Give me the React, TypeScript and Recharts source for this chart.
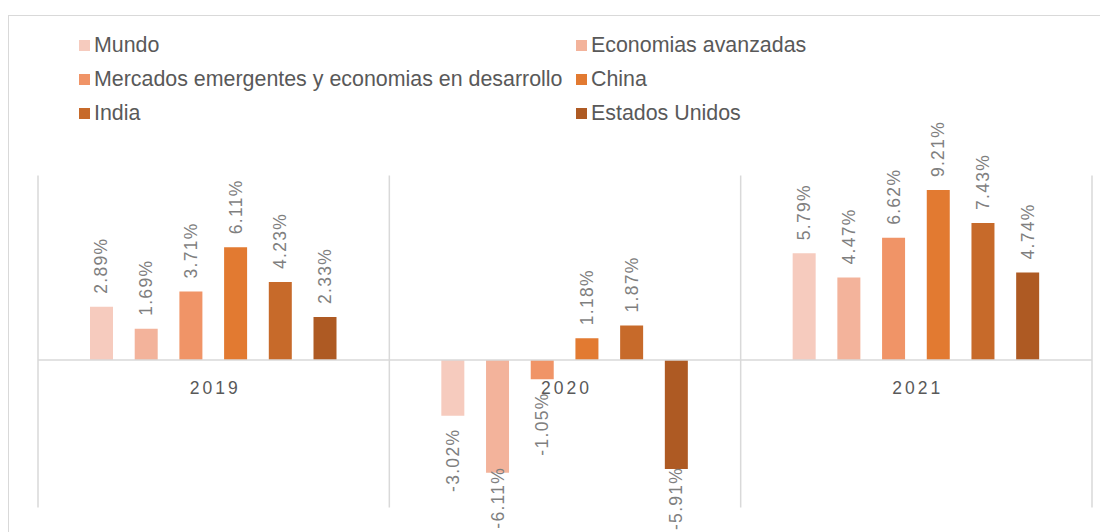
import React from 'react';
import {
  ComposedChart,
  Bar,
  XAxis,
  YAxis,
  ReferenceLine,
  ReferenceDot,
  Legend,
  LabelList,
} from 'recharts';

const categories = ['2019', '2020', '2021'];
const mundo = [2.89, -3.02, 5.79];
const economiasAvanzadas = [1.69, -6.11, 4.47];
const mercadosEmergentes = [3.71, -1.05, 6.62];
const china = [6.11, 1.18, 9.21];
const india = [4.23, 1.87, 7.43];
const estadosUnidos = [2.33, -5.91, 4.74];

const seriesDefs = [
  { key: 'mundo', name: 'Mundo', values: mundo, color: '#F6CBBE' },
  { key: 'avanzadas', name: 'Economias avanzadas', values: economiasAvanzadas, color: '#F3B39B' },
  { key: 'emergentes', name: 'Mercados emergentes y economias en desarrollo', values: mercadosEmergentes, color: '#F09467' },
  { key: 'china', name: 'China', values: china, color: '#E27A31' },
  { key: 'india', name: 'India', values: india, color: '#C76A2A' },
  { key: 'eeuu', name: 'Estados Unidos', values: estadosUnidos, color: '#AE5A23' },
];

const data = categories.map((c, i) => {
  const row: Record<string, any> = { year: c };
  seriesDefs.forEach((s) => {
    row[s.key] = s.values[i];
  });
  return row;
});

const FONT = '"Liberation Sans", Arial, sans-serif';
const CHART_W = 1100;
const CHART_H = 524;
const LABEL_FS = 17.5;
const LABEL_LS = 1.3;

// approximate Arial advance widths (em) for label glyphs
const GLYPH_W: Record<string, number> = { '-': 0.333, '.': 0.278, '%': 0.889 };
const estimateLen = (s: string) =>
  s.split('').reduce((acc, ch) => acc + (GLYPH_W[ch] ?? 0.556) * LABEL_FS + LABEL_LS, 0);

const BarValueLabel = (props: any) => {
  const { x, y, width, height, value } = props;
  const v = Number(value);
  const nx = Number(x);
  const ny = Number(y);
  const nw = Number(width);
  const nh = Number(height);
  const cx = nx + nw / 2;
  const top = Math.min(ny, ny + nh);
  const bottom = Math.max(ny, ny + nh);
  const gap = 13;
  const text = v.toFixed(2) + '%';
  let ty: number;
  if (v >= 0) {
    ty = top - gap;
  } else {
    const len = estimateLen(text);
    ty = Math.min(bottom + gap, CHART_H - 2 - len);
  }
  return (
    <text
      x={cx}
      y={ty}
      transform={`rotate(-90 ${cx} ${ty})`}
      textAnchor={v >= 0 ? 'start' : 'end'}
      dominantBaseline="central"
      fill="#7F7F7F"
      fontSize={LABEL_FS}
      letterSpacing={LABEL_LS}
      fontFamily={FONT}
    >
      {text}
    </text>
  );
};

const CategoryLabel = (props: any) => {
  const vb = props.viewBox || {};
  const cx = Number(vb.x) + Number(vb.width || 0) / 2;
  const cy = Number(vb.y) + Number(vb.height || 0) / 2;
  return (
    <text
      x={cx + 1.5}
      y={cy + 28}
      textAnchor="middle"
      dominantBaseline="central"
      fill="#595959"
      fontSize={17.5}
      letterSpacing={3}
      fontFamily={FONT}
    >
      {props.value}
    </text>
  );
};

const LegendContent = (props: any) => {
  const payload = [...(props.payload || [])].sort(
    (a: any, b: any) =>
      seriesDefs.findIndex((s) => s.name === a.value) - seriesDefs.findIndex((s) => s.name === b.value)
  );
  return (
    <div
      style={{
        display: 'grid',
        gridTemplateColumns: '497px 400px',
        gridAutoRows: '34.3px',
        fontFamily: FONT,
        fontSize: 21.4,
        color: '#595959',
      }}
    >
      {payload.map((p: any) => (
        <div key={p.value} style={{ display: 'flex', alignItems: 'center', whiteSpace: 'nowrap' }}>
          <span style={{ width: 11, height: 11, background: p.color, display: 'inline-block', marginRight: 4, flex: 'none' }} />
          <span>{p.value}</span>
        </div>
      ))}
    </div>
  );
};

export default function App() {
  return (
    <div style={{ position: 'relative', width: CHART_W, height: CHART_H, overflow: 'hidden', fontFamily: FONT }}>
      <div
        style={{
          position: 'absolute',
          left: 0,
          top: 7,
          width: 1200,
          height: 700,
          borderTop: '1.5px solid #D9D9D9',
          borderLeft: '1.5px solid #D9D9D9',
          boxSizing: 'border-box',
        }}
      />
      <ComposedChart
        width={CHART_W}
        height={CHART_H}
        data={data}
        margin={{ top: 167.5, right: 16, bottom: 24.4, left: 30 }}
        barSize={23}
        barGap={21.7}
      >
        <XAxis dataKey="year" type="category" hide />
        <YAxis type="number" domain={[-8, 10]} allowDataOverflow hide />
        {categories.map((c) => (
          <ReferenceLine key={'s' + c} x={c} position="start" stroke="#D9D9D9" strokeWidth={1.5} ifOverflow="visible" />
        ))}
        <ReferenceLine
          x={categories[categories.length - 1]}
          position="end"
          stroke="#D9D9D9"
          strokeWidth={1.5}
          ifOverflow="visible"
        />
        <ReferenceLine y={0} stroke="#D9D9D9" strokeWidth={1.5} />
        <Legend
          layout="horizontal"
          verticalAlign="middle"
          align="center"
          wrapperStyle={{ top: 20, left: 71, width: 1000 }}
          content={<LegendContent />}
        />
        {seriesDefs.map((s) => (
          <Bar key={s.key} dataKey={s.key} name={s.name} fill={s.color} isAnimationActive={false}>
            <LabelList dataKey={s.key} content={<BarValueLabel />} />
          </Bar>
        ))}
        {categories.map((c) => (
          <ReferenceDot
            key={'c' + c}
            x={c}
            y={0}
            r={0}
            fill="none"
            stroke="none"
            ifOverflow="visible"
            label={<CategoryLabel value={c} />}
          />
        ))}
      </ComposedChart>
    </div>
  );
}
